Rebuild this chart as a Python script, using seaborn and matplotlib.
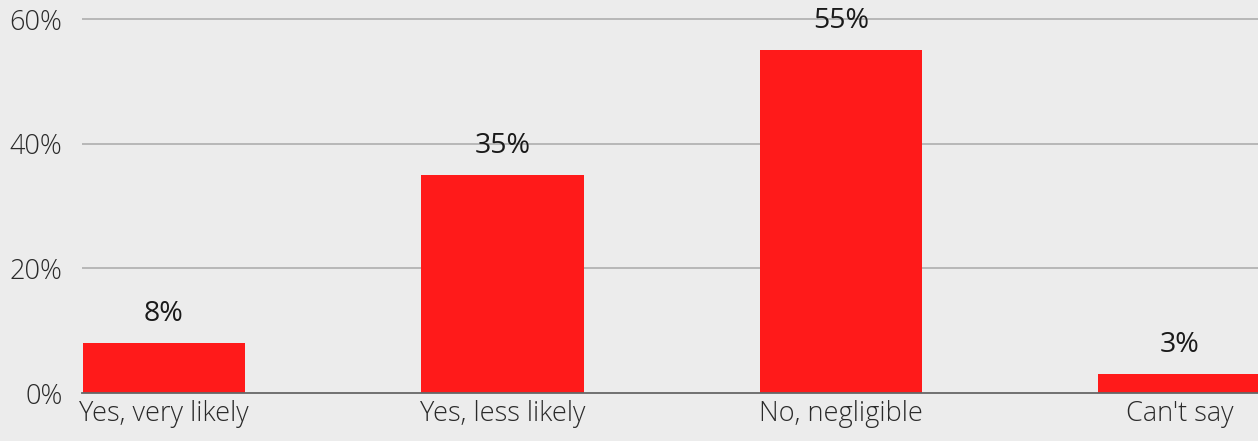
import matplotlib
matplotlib.use("Agg")
import matplotlib.pyplot as plt
import seaborn as sns
import pandas as pd

categories = ["Yes, very likely", "Yes, less likely", "No, negligible", "Can't say"]
values = [8, 35, 55, 3]
value_labels = ["8%", "35%", "55%", "3%"]
yticks = [0, 20, 40, 60]
ytick_labels = ["0%", "20%", "40%", "60%"]

sns.set_theme(style="white")
plt.rcParams['font.family'] = ['Open Sans', 'DejaVu Sans']

fig = plt.figure(figsize=(12.58, 4.41), dpi=100)
fig.patch.set_facecolor("#ececec")
ax = fig.add_axes([82/1258, 48/441, 1 - 82/1258, 1 - 48/441])
ax.set_facecolor("#ececec")

df = pd.DataFrame({"cat": categories, "val": values})
sns.barplot(data=df, x="cat", y="val", color="#ff1a1a", saturation=1, width=0.48,
            ax=ax, zorder=3, linewidth=0, edgecolor="none")

ax.set_xlim(-0.242, 3.232)
ax.set_ylim(0, 63.05)
ax.set_yticks(yticks)
ax.set_yticklabels(ytick_labels)
ax.set_xlabel("")
ax.set_ylabel("")

for s in ["top", "right", "left"]:
    ax.spines[s].set_visible(False)
ax.spines["bottom"].set_color("#666666")
ax.spines["bottom"].set_linewidth(1.3)
ax.spines["bottom"].set_zorder(4)

for y in yticks[1:]:
    ax.axhline(y, color="#b3b3b3", lw=1.3, zorder=1)

ax.tick_params(axis="y", length=0, pad=14, labelsize=19.5, labelcolor="#2a2a2a")
ax.tick_params(axis="x", length=0, pad=5, labelsize=19.5, labelcolor="#2a2a2a")
for lab in ax.get_xticklabels() + ax.get_yticklabels():
    lab.set_fontweight("light")

for i, (v, t) in enumerate(zip(values, value_labels)):
    ax.annotate(t, (i, v), xytext=(0, 11), textcoords="offset points",
                ha="center", va="bottom", fontsize=20.5, color="#1a1a1a",
                family=["Open Sans", "DejaVu Sans"], fontweight="normal",
                zorder=5, annotation_clip=False)

fig.savefig("out.png", dpi=100, facecolor=fig.get_facecolor())
